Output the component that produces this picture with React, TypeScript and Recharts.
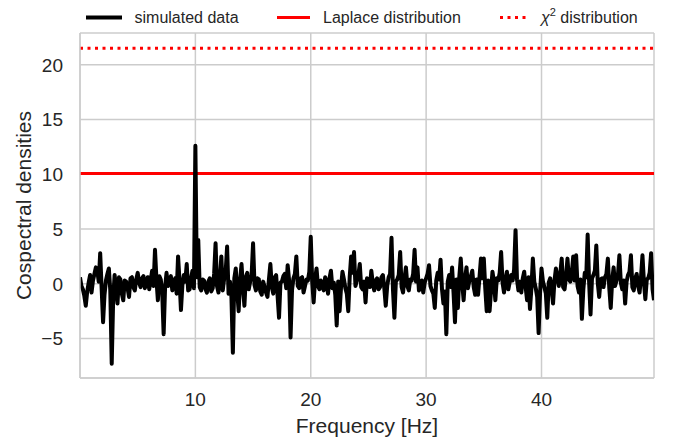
import { LineChart, Line, XAxis, YAxis, CartesianGrid, Label } from "recharts";

// frequency step of the simulated cospectrum [Hz]
const df = 0.125;

// simulated cospectrum, one value per frequency bin (0 ... 49.75 Hz)
const cospectrum = [
  0.6, -0.2, -0.5, -1.1, -2.0, -0.7, 0.1, 0.8, -0.8, 0.3, 0.9, 1.5, 1.2, 0.2, 2.8, -0.4, -3.5, -1.0, 0.3, 0.9,
  1.4, -0.6, -7.3, -1.4, 0.8, -0.5, -1.8, 0.6, 0.4, -0.9, -1.5, 0.3, 0.2, -0.4, -1.2, 0.5, 0.6, -0.3, -0.6, 0.4,
  1.0, 0.1, -0.3, 0.5, 0.7, -0.4, 0.2, 0.6, -0.5, 0.3, 1.2, -0.2, 3.1, 0.4, -1.5, 0.7, 0.4, -0.8, -4.6, -0.3,
  1.0, -0.2, 0.2, 0.7, -0.6, 0.1, 0.5, -0.9, 2.5, 0.3, -2.4, -0.1, 0.8, 0.2, 1.8, -0.6, -0.5, 0.5, 1.2, -0.4,
  12.6, 0.6, 4.0, -0.3, -0.6, 0.4, 0.3, -0.5, -0.8, 0.2, 0.5, -0.7, -0.4, 0.9, 3.7, -0.2, -0.8, 0.4, 2.5, -0.6,
  0.5, 1.1, 3.4, -0.9, 0.2, -1.2, -6.3, 0.5, 1.4, -0.7, -2.5, 0.3, 1.8, -0.4, -2.0, 0.6, 1.0, -0.5, 0.2, 0.8,
  3.7, -0.1, -0.6, 0.5, 0.4, -0.7, -1.0, 0.2, -0.3, -0.8, -1.2, 0.4, 1.8, -0.3, -0.9, 0.6, 0.8, -1.1, -3.1, 0.1,
  0.2, 0.7, 0.9, -0.4, 1.7, 0.3, -4.9, -0.6, 0.5, 0.9, 2.5, -0.2, -0.4, 0.5, 0.6, -0.8, -0.2, 0.4, 0.3, 1.1,
  4.3, 0.2, -1.7, 0.4, 1.4, -0.2, -0.5, 0.3, -0.2, -0.6, 0.6, 0.1, -0.9, 0.5, 1.2, -0.4, 0.1, -1.0, -3.8, 0.2,
  -2.5, -0.3, 1.1, 0.4, -0.4, -0.9, -2.5, 0.6, 2.5, 1.0, 2.9, -0.2, 0.3, 0.8, 1.8, -0.3, -0.5, 0.2, -1.7, 0.5,
  0.4, -0.3, 1.2, 0.1, -0.6, 0.3, 0.5, -0.5, -0.3, 0.6, 0.8, -0.4, -2.0, -0.2, 0.6, 0.9, 4.2, -0.5, -3.1, 0.2,
  0.4, 0.8, 2.9, -0.3, -0.8, 0.5, 1.5, -0.2, -0.6, 0.4, 0.3, 0.9, 3.1, 0.2, 1.5, -0.6, -0.4, 0.3, -0.8, 0.1,
  0.5, 0.9, 1.7, -0.2, -0.6, -0.9, -2.2, 0.3, 1.0, 0.4, 2.2, -0.5, -1.8, -0.7, -4.6, 0.2, 0.8, -0.3, 1.5, -0.8,
  -3.5, 0.4, -2.2, 0.6, 2.3, 0.1, -1.5, 0.5, 1.5, -0.4, 0.3, 0.7, 1.2, -0.3, -1.0, 0.4, -1.0, 0.6, 2.3, 0.5,
  2.3, -0.4, -2.5, 0.3, -2.5, -0.6, 1.1, 0.2, -1.5, 0.5, 0.3, 1.0, 2.9, 0.1, -0.8, 0.4, 1.1, -0.5, 0.2, 0.8,
  0.3, 1.3, 4.9, 0.4, -0.6, 0.2, -0.8, 0.5, 1.1, -0.3, -1.5, 0.6, -2.3, -0.4, 2.3, 0.2, -0.4, -1.2, -4.5, -0.8,
  1.4, 0.2, -0.3, -0.9, -3.1, 0.1, 0.5, -0.4, -1.8, 0.3, 1.4, 0.6, -0.2, 0.9, 2.3, -0.3, -0.5, 0.7, 2.3, 0.4,
  0.2, 1.0, 2.5, 0.3, 2.6, -0.2, -0.8, 0.4, -3.2, -0.5, 1.0, 0.6, 4.5, 0.2, -2.8, 0.5, 0.8, 1.2, 3.5, 0.1,
  -1.2, 0.4, 0.5, -0.3, 0.6, 0.9, 2.3, -0.4, -2.2, 0.3, 1.5, -0.2, 0.3, 0.8, 2.6, 0.1, -0.5, 0.3, -1.8, 0.2,
  0.8, 1.1, 2.6, -0.3, -0.6, 0.5, 0.9, -0.2, -0.8, 0.6, 2.6, 0.2, -1.4, 0.4, 0.5, 1.0, 2.8, -0.5, -1.5,
];

// detection levels
const laplaceLevel = 10.08;
const chi2Level = 21.5;

const xTicks = [10, 20, 30, 40];
const yTicks = [-5, 0, 5, 10, 15, 20];

const data = cospectrum.map((v, i) => ({
  freq: i * df,
  power: v,
  laplace: laplaceLevel,
  chi2: chi2Level,
}));

const font = "'Liberation Sans', Arial, sans-serif";
const gridColor = "#cccccc";
const textColor = "#262626";

const fmt = (v: number) => (v < 0 ? `\u2212${Math.abs(v)}` : String(v));

function LegendBar() {
  return (
    <svg width={673} height={40} style={{ position: "absolute", left: 0, top: 0 }}>
      <g fontFamily={font} fontSize={16} fill={textColor}>
        <line x1={86} x2={122} y1={17.5} y2={17.5} stroke="#000" strokeWidth={4} />
        <text x={134.5} y={22.5}>simulated data</text>
        <line x1={277} x2={310} y1={17.5} y2={17.5} stroke="#ff0000" strokeWidth={3} />
        <text x={323} y={22.5}>Laplace distribution</text>
        <line x1={500} x2={530} y1={17.5} y2={17.5} stroke="#ff0000" strokeWidth={3} strokeDasharray="3 4.5" />
        <text x={541} y={22.5}>
          <tspan fontStyle="italic">χ</tspan>
          <tspan fontSize={11} dy={-7}>2</tspan>
          <tspan dy={7}> distribution</tspan>
        </text>
      </g>
    </svg>
  );
}

export default function App() {
  return (
    <div style={{ position: "absolute", left: 0, top: 0, width: 673, height: 444, background: "#fff" }}>
      <LineChart width={673} height={444} data={data} margin={{ top: 33, right: 19, bottom: 0, left: 0 }}>
        <CartesianGrid stroke={gridColor} strokeWidth={1.5} />
        <XAxis
          dataKey="freq"
          type="number"
          domain={[0, 49.75]}
          ticks={xTicks}
          height={66}
          tickSize={0}
          tickMargin={15}
          tickLine={false}
          axisLine={{ stroke: gridColor, strokeWidth: 1.5 }}
          tick={{ fontFamily: font, fontSize: 19, fill: textColor }}
          allowDataOverflow
        >
          <Label
            content={({ viewBox }: any) => (
              <text
                x={viewBox.x + viewBox.width / 2}
                y={433}
                textAnchor="middle"
                fontFamily={font}
                fontSize={21}
                fill={textColor}
              >
                Frequency [Hz]
              </text>
            )}
          />
        </XAxis>
        <XAxis
          xAxisId="top"
          orientation="top"
          type="number"
          domain={[0, 49.75]}
          height={0}
          tick={false}
          tickLine={false}
          axisLine={{ stroke: gridColor, strokeWidth: 1.5 }}
        />
        <YAxis
          type="number"
          domain={[-8.6, 22.9]}
          ticks={yTicks}
          width={80}
          tickSize={0}
          tickMargin={17}
          tickLine={false}
          tickFormatter={fmt}
          axisLine={{ stroke: gridColor, strokeWidth: 1.5 }}
          tick={{ fontFamily: font, fontSize: 19, fill: textColor }}
          allowDataOverflow
        >
          <Label
            content={({ viewBox }: any) => {
              const cx = 23;
              const cy = viewBox.y + viewBox.height / 2;
              return (
                <text
                  x={cx}
                  y={cy}
                  transform={`rotate(-90 ${cx} ${cy})`}
                  textAnchor="middle"
                  dominantBaseline="central"
                  fontFamily={font}
                  fontSize={21}
                  fill={textColor}
                >
                  Cospectral densities
                </text>
              );
            }}
          />
        </YAxis>
        <YAxis
          yAxisId="right"
          orientation="right"
          type="number"
          domain={[-8.6, 22.9]}
          width={0}
          tick={false}
          tickLine={false}
          axisLine={{ stroke: gridColor, strokeWidth: 1.5 }}
        />
        <Line
          dataKey="chi2"
          stroke="#ff0000"
          strokeWidth={3}
          strokeDasharray="3 4.5"
          dot={false}
          activeDot={false}
          isAnimationActive={false}
        />
        <Line
          dataKey="laplace"
          stroke="#ff0000"
          strokeWidth={3}
          dot={false}
          activeDot={false}
          isAnimationActive={false}
        />
        <Line
          dataKey="power"
          type="linear"
          stroke="#000000"
          strokeWidth={4}
          strokeLinejoin="round"
          dot={false}
          activeDot={false}
          isAnimationActive={false}
        />
      </LineChart>
      <LegendBar />
    </div>
  );
}
